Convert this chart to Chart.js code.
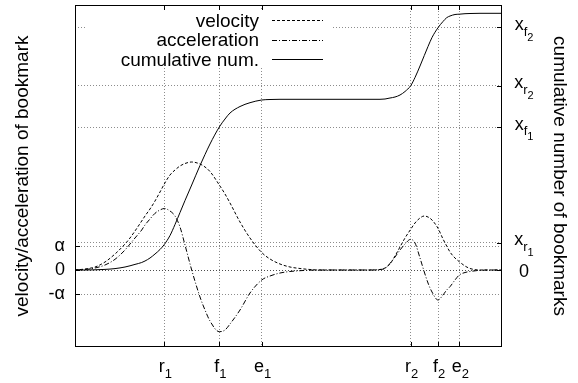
<!DOCTYPE html>
<html>
<head>
<meta charset="utf-8">
<script src="https://cdn.jsdelivr.net/npm/chart.js@4"></script>
<style>
  html, body { margin: 0; padding: 0; background: #fff; }
  canvas { display: block; }
</style>
</head>
<body>
<canvas id="chart" width="578" height="383"></canvas>
<script>
// time (arbitrary units), shared by the three curves
const xs = [0, 10, 20, 30, 40, 50, 55, 60, 66.7, 70, 75, 80, 85, 89.3, 95, 100, 105, 110, 116.7,
  125, 130, 135, 144.3, 150, 155, 165, 175, 186.7, 195, 205, 215, 225, 235, 245, 265, 295,
  305, 310, 315, 320, 325, 330, 335.7, 340, 345, 349.3, 353, 357, 363, 368, 371.7, 375, 380,
  384.3, 390, 395, 405, 415, 427];
const velocity = [0, 1, 3, 8, 16, 26, 32, 39, 49, 54, 61, 69, 78, 86, 95, 100, 104, 106.5, 108,
  106, 103, 98.5, 85, 76, 67, 48, 32, 17.5, 11, 6, 3, 1.5, 0.5, 0, 0, 0,
  0.5, 2, 6, 14, 23, 32, 40.7, 47, 52, 54, 53, 50, 41.7, 31, 24, 18, 12,
  8.3, 4, 1.5, 0, 0, 0];
const acceleration = [0, 0.5, 2, 5, 10.7, 20, 26, 32, 40, 45, 51, 56.7, 60, 61.5, 59, 54, 43, 25, 0,
  -27, -40, -51, -61.7, -60, -54, -40, -23, -10, -6, -3, -1.5, -0.7, -0.2, 0, 0, 0,
  0.5, 1.5, 6.7, 13, 20, 26, 30.7, 27, 12, -2, -13, -22, -30, -25, -20, -16.7, -10,
  -5, -2.5, -1.5, -0.3, 0, 0];
const cumulative = [0, 0, 0.2, 0.6, 1.4, 3, 4.2, 5.6, 7.5, 9, 12, 16, 20.5, 25.5, 34.5, 45.5, 57.5, 69.5, 85,
  104.5, 115.5, 126, 143, 151, 157, 163.5, 167.3, 170, 170.5, 170.7, 170.7, 170.7, 170.7, 170.7, 170.7, 170.7,
  170.7, 171, 172, 173, 175, 178.5, 184.3, 192.5, 204, 214.5, 223.5, 232.5, 242.3, 248.5, 252.3, 254, 255.5,
  255.8, 256.3, 256.5, 256.7, 256.7, 256.7];

const xTickValues = [89.3, 144.3, 186.7, 335.7, 363, 384.3];
const xTickLabels = ['r_1', 'f_1', 'e_1', 'r_2', 'f_2', 'e_2'];
const leftTickValues = [-24, 0, 24];
const leftTickLabels = ['-α', '0', 'α'];
const rightTickValues = [0, 27.3, 142.8, 184.3, 242.7];
const rightTickLabels = ['0', 'x_r_1', 'x_f_1', 'x_r_2', 'x_f_2'];

const FONT = "'Liberation Sans', Arial, Helvetica, sans-serif";
const levelSize = [18, 13, 11];
const levelShift = [0, 5.5, 10.5];
const gridColor = 'rgba(0,0,0,0.45)';

function points(ys) {
  return xs.map((x, i) => ({ x: x, y: ys[i] }));
}

// label like "x_r_1" -> x, subscript r, sub-subscript 1
function drawRich(ctx, label, cx, baseline) {
  const parts = label.split('_').map((t, i) => ({ t: t, lvl: i }));
  let w = 0;
  parts.forEach((p) => {
    ctx.font = levelSize[p.lvl] + 'px ' + FONT;
    p.w = ctx.measureText(p.t).width;
    w += p.w;
  });
  let x = cx - w / 2;
  parts.forEach((p) => {
    ctx.font = levelSize[p.lvl] + 'px ' + FONT;
    ctx.fillText(p.t, x, baseline + levelShift[p.lvl]);
    x += p.w;
  });
}

// fixed box sizes so the plot area sits where the original one does
function fixBox(w, h) {
  return (s) => {
    if (w !== null) s.width = w;
    if (h !== null) s.height = h;
    s.paddingTop = 0;
    s.paddingBottom = 0;
    s.paddingLeft = 0;
    s.paddingRight = 0;
  };
}

const keyBox = {
  id: 'keyBox',
  beforeDatasetsDraw(chart) {
    const { ctx, chartArea: a } = chart;
    ctx.save();
    ctx.fillStyle = '#fff';
    ctx.fillRect(a.left + 12, a.top + 6, 246, 56);
    ctx.font = '19px ' + FONT;
    ctx.textAlign = 'right';
    ctx.textBaseline = 'alphabetic';
    ctx.fillStyle = '#000';
    ctx.strokeStyle = '#000';
    ctx.lineWidth = 1;
    chart.data.datasets.forEach((ds, i) => {
      const y = a.top + 15 + i * 19.5;
      ctx.fillText(ds.label, a.left + 184, y + 6.7);
      ctx.setLineDash(ds.borderDash || []);
      ctx.beginPath();
      ctx.moveTo(a.left + 197, Math.round(y) + 0.5);
      ctx.lineTo(a.left + 248, Math.round(y) + 0.5);
      ctx.stroke();
    });
    ctx.restore();
  }
};

const frame = {
  id: 'frame',
  afterDraw(chart) {
    const { ctx, chartArea: a, scales } = chart;
    ctx.save();
    ctx.strokeStyle = '#000';
    ctx.lineWidth = 1;
    ctx.setLineDash([]);
    ctx.strokeRect(a.left + 0.5, a.top + 0.5, a.right - a.left - 1, a.bottom - a.top - 1);

    ctx.beginPath();
    xTickValues.forEach((v) => {
      const px = Math.round(scales.x.getPixelForValue(v)) + 0.5;
      ctx.moveTo(px, a.bottom); ctx.lineTo(px, a.bottom - 5);
      ctx.moveTo(px, a.top); ctx.lineTo(px, a.top + 5);
    });
    leftTickValues.forEach((v) => {
      const py = Math.round(scales.y.getPixelForValue(v)) + 0.5;
      ctx.moveTo(a.left, py); ctx.lineTo(a.left + 5, py);
    });
    rightTickValues.forEach((v) => {
      const py = Math.round(scales.y2.getPixelForValue(v)) + 0.5;
      ctx.moveTo(a.right, py); ctx.lineTo(a.right - 5, py);
    });
    ctx.stroke();

    ctx.fillStyle = '#000';
    ctx.textAlign = 'left';
    ctx.textBaseline = 'alphabetic';
    xTickValues.forEach((v, i) => {
      drawRich(ctx, xTickLabels[i], scales.x.getPixelForValue(v) + 1, a.bottom + 25);
    });
    rightTickValues.forEach((v, i) => {
      const lab = rightTickLabels[i];
      const py = scales.y2.getPixelForValue(v);
      drawRich(ctx, lab, a.right + 22, py + (lab.indexOf('_') < 0 ? 6.5 : 2.7));
    });
    ctx.restore();
  }
};

new Chart(document.getElementById('chart'), {
  type: 'line',
  data: {
    datasets: [
      {
        label: 'velocity',
        data: points(velocity),
        yAxisID: 'y',
        borderColor: '#000',
        borderWidth: 1,
        borderDash: [3, 2],
        pointRadius: 0,
        cubicInterpolationMode: 'monotone',
      },
      {
        label: 'acceleration',
        data: points(acceleration),
        yAxisID: 'y',
        borderColor: '#000',
        borderWidth: 1,
        borderDash: [5, 2, 1, 2],
        pointRadius: 0,
        cubicInterpolationMode: 'monotone',
      },
      {
        label: 'cumulative num.',
        data: points(cumulative),
        yAxisID: 'y2',
        borderColor: '#000',
        borderWidth: 1,
        pointRadius: 0,
        cubicInterpolationMode: 'monotone',
      },
    ],
  },
  options: {
    responsive: false,
    animation: false,
    devicePixelRatio: 1,
    layout: { padding: { top: 5, left: 0, right: 0, bottom: 0 } },
    plugins: { legend: { display: false }, tooltip: { enabled: false } },
    scales: {
      x: {
        type: 'linear',
        min: 0,
        max: 427,
        afterBuildTicks: (s) => { s.ticks = xTickValues.map((v) => ({ value: v })); },
        afterFit: fixBox(null, 36),
        ticks: { display: false },
        grid: { color: gridColor, drawTicks: false },
        border: { display: false, dash: [1, 2] },
      },
      y: {
        position: 'left',
        min: -77,
        max: 265,
        afterBuildTicks: (s) => { s.ticks = leftTickValues.map((v) => ({ value: v })); },
        afterFit: fixBox(75, null),
        ticks: {
          color: '#000',
          padding: 10,
          font: { family: FONT, size: 18 },
          callback: (v) => leftTickLabels[leftTickValues.indexOf(v)],
        },
        grid: { color: gridColor, drawTicks: false },
        border: { display: false, dash: [1, 2] },
        title: {
          display: true,
          text: 'velocity/acceleration of bookmark',
          color: '#000',
          font: { family: FONT, size: 19 },
          padding: { top: 11, bottom: 0 },
        },
      },
      y2: {
        position: 'right',
        min: -77,
        max: 265,
        afterBuildTicks: (s) => { s.ticks = rightTickValues.map((v) => ({ value: v })); },
        afterFit: fixBox(76, null),
        ticks: { display: false },
        grid: { color: gridColor, drawTicks: false },
        border: { display: false, dash: [1, 2] },
        title: {
          display: true,
          text: 'cumulative number of bookmarks',
          color: '#000',
          font: { family: FONT, size: 19 },
          padding: { top: 7, bottom: 0 },
        },
      },
    },
  },
  plugins: [keyBox, frame],
});
</script>
</body>
</html>
